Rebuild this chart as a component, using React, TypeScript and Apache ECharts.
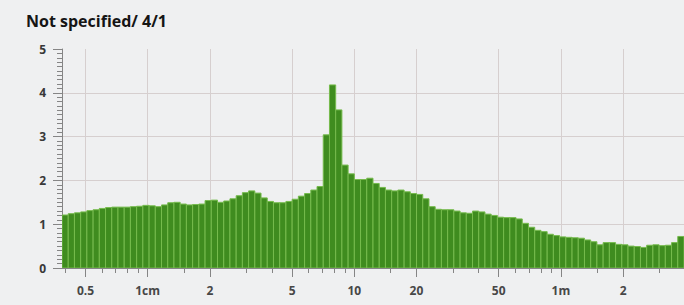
import React, { useEffect, useRef } from "react";
import * as echarts from "echarts";

const TITLE = "Not specified/ 4/1";

// Size classes: each bin is 1/10 of a doubling, first lower edge in cm
const BIN_START_CM = 0.385;
const BIN_STEP_LOG2 = 0.1;

// Bar heights, one per size class (left to right)
const VALUES = [
  1.21, 1.24, 1.26, 1.28, 1.31, 1.33, 1.36, 1.38, 1.39, 1.39,
  1.39, 1.4, 1.41, 1.43, 1.42, 1.4, 1.44, 1.49, 1.5, 1.46,
  1.44, 1.45, 1.46, 1.54, 1.55, 1.5, 1.53, 1.58, 1.65, 1.72,
  1.76, 1.71, 1.6, 1.52, 1.49, 1.49, 1.52, 1.57, 1.64, 1.7,
  1.78, 1.86, 3.04, 4.18, 3.61, 2.35, 2.15, 2.02, 2.02, 2.05,
  1.93, 1.84, 1.78, 1.76, 1.78, 1.74, 1.7, 1.68, 1.58, 1.4,
  1.34, 1.33, 1.33, 1.3, 1.26, 1.25, 1.3, 1.28, 1.23, 1.2,
  1.16, 1.15, 1.15, 1.12, 1.02, 0.93, 0.86, 0.83, 0.77, 0.74,
  0.71, 0.7, 0.69, 0.68, 0.64, 0.6, 0.53, 0.58, 0.58, 0.54,
  0.53, 0.5, 0.49, 0.47, 0.52, 0.53, 0.51, 0.52, 0.58, 0.72,
];

const MAJOR_TICKS_CM = [0.5, 1, 2, 5, 10, 20, 50, 100, 200];
const MAJOR_LABELS = ["0.5", "1cm", "2", "5", "10", "20", "50", "1m", "2"];
const MINOR_TICKS_CM = [
  0.4, 0.6, 0.7, 0.8, 0.9, 1.5, 3, 4, 6, 7, 8, 9, 15, 30, 40, 60, 70, 80, 90,
  150, 300,
];
const Y_MIN = 0;
const Y_MAX = 5;
const Y_INTERVAL = 1;

const log10 = (v: number) => Math.log10(v);

export default function App() {
  const ref = useRef<HTMLDivElement>(null);

  useEffect(() => {
    if (!ref.current) return;
    const chart = echarts.init(ref.current, null, { renderer: "svg" });

    const binLog = BIN_STEP_LOG2 * Math.log10(2);
    const xMin = log10(BIN_START_CM);
    const xMax = xMin + VALUES.length * binLog;
    const data = VALUES.map((v, i) => [xMin + i * binLog, xMin + (i + 1) * binLog, v]);

    const majorLog = MAJOR_TICKS_CM.map(log10);
    const minorLog = MINOR_TICKS_CM.map(log10).filter((v) => v > xMin && v < xMax);

    const labelFor = (val: number) => {
      let best = 0;
      let bd = Infinity;
      majorLog.forEach((m, i) => {
        const d = Math.abs(m - val);
        if (d < bd) {
          bd = d;
          best = i;
        }
      });
      return MAJOR_LABELS[best];
    };

    const tickColor = "#858585";
    const gridColor = "#d6cfcf";

    chart.setOption({
      animation: false,
      backgroundColor: "#eff0f1",
      title: {
        text: TITLE,
        left: 21,
        top: 8,
        textStyle: {
          fontFamily: "Open Sans",
          fontWeight: "bold",
          fontSize: 16,
          color: "#151515",
        },
      },
      grid: { left: 62, right: -2, top: 49, bottom: 37, containLabel: false },
      xAxis: [
        {
          type: "value",
          min: xMin,
          max: xMax,
          position: "bottom",
          axisLine: { show: true, onZero: false, lineStyle: { color: tickColor } },
          axisTick: {
            show: true,
            length: 9,
            customValues: majorLog,
            lineStyle: { color: tickColor },
          },
          axisLabel: {
            customValues: majorLog,
            formatter: (v: number) => labelFor(v),
            margin: 16,
            fontSize: 12,
            fontWeight: "bold",
            fontFamily: "Open Sans",
            color: "#474747",
          },
          splitLine: { show: true, lineStyle: { color: gridColor, width: 1 } },
        },
        {
          type: "value",
          min: xMin,
          max: xMax,
          position: "bottom",
          axisLine: { show: false, onZero: false },
          axisTick: {
            show: true,
            length: 5,
            customValues: minorLog,
            lineStyle: { color: tickColor },
          },
          axisLabel: { show: false },
          splitLine: { show: false },
        },
      ],
      yAxis: {
        type: "value",
        min: Y_MIN,
        max: Y_MAX,
        interval: Y_INTERVAL,
        axisLine: { show: true, onZero: false, lineStyle: { color: tickColor } },
        axisTick: { show: true, length: 9, lineStyle: { color: tickColor } },
        minorTick: { show: true, splitNumber: 10, length: 5, lineStyle: { color: tickColor } },
        axisLabel: {
          margin: 16,
          fontSize: 12,
          fontWeight: "bold",
          fontFamily: "Open Sans",
          color: "#383838",
        },
        splitLine: {
          show: true,
          showMinLine: false,
          showMaxLine: false,
          lineStyle: { color: gridColor, width: 1 },
        },
      },
      series: [
        {
          type: "custom",
          xAxisIndex: 0,
          yAxisIndex: 0,
          clip: true,
          encode: { x: [0, 1], y: 2 },
          data,
          renderItem: (params: any, api: any) => {
            const lo = api.value(0);
            const hi = api.value(1);
            const v = api.value(2);
            const p0 = api.coord([lo, 0]);
            const p1 = api.coord([hi, v]);
            return {
              type: "rect",
              shape: {
                x: p0[0],
                y: p1[1],
                width: p1[0] - p0[0],
                height: p0[1] - p1[1],
              },
              style: { fill: "#3f8c1f", stroke: "#76bb4d", lineWidth: 1 },
            };
          },
        },
      ],
    });

    return () => chart.dispose();
  }, []);

  return (
    <div
      style={{
        position: "fixed",
        left: 0,
        top: 0,
        width: 684,
        height: 305,
        background: "#eff0f1",
        overflow: "hidden",
      }}
    >
      <div ref={ref} style={{ width: 684, height: 305 }} />
    </div>
  );
}
